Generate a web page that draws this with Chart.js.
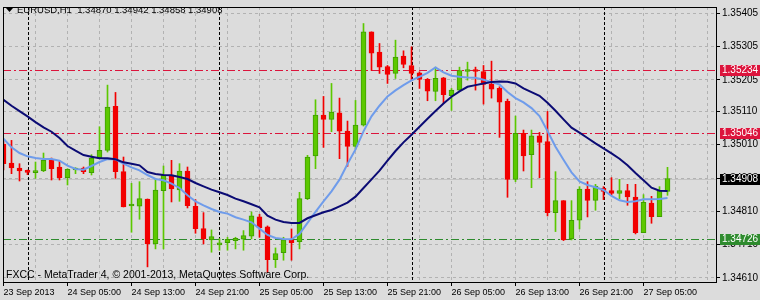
<!DOCTYPE html>
<html>
<head>
<meta charset="utf-8">
<script src="https://cdn.jsdelivr.net/npm/chart.js@4.4.1/dist/chart.umd.min.js"></script>
<style>
  html, body { margin: 0; padding: 0; background: #dcdcdc; }
  canvas { display: block; }
</style>
</head>
<body>
<canvas id="chart" width="760" height="300"></canvas>
<script>
// EURUSD H1, 23 Sep 21:00 .. 27 Sep 08:00 (84 bars)
const symbol = 'EURUSD,H1';
const timeLabels = ['23 Sep 2013', '24 Sep 05:00', '24 Sep 13:00', '24 Sep 21:00', '25 Sep 05:00',
  '25 Sep 13:00', '25 Sep 21:00', '26 Sep 05:00', '26 Sep 13:00', '26 Sep 21:00', '27 Sep 05:00'];

const opens = [1.35012,1.34955,1.34940,1.34929,1.34926,1.34931,1.34963,1.34943,1.34911,1.34934,
  1.34940,1.34926,1.34970,1.34993,1.35125,1.34929,1.34826,1.34825,1.34847,1.34712,
  1.34872,1.34919,1.34874,1.34931,1.34825,1.34758,1.34724,1.34709,1.34716,1.34722,
  1.34726,1.34735,1.34793,1.34763,1.34665,1.34686,1.34724,1.34719,1.34848,1.34976,
  1.35099,1.35086,1.35106,1.35051,1.35005,1.35069,1.35349,1.35288,1.35245,1.35224,
  1.35276,1.35248,1.35226,1.35206,1.35170,1.35211,1.35157,1.35174,1.35230,1.35235,
  1.35230,1.35192,1.35179,1.35140,1.34906,1.35044,1.34980,1.35037,1.35019,1.34806,
  1.34842,1.34727,1.34783,1.34877,1.34843,1.34879,1.34872,1.34864,1.34872,1.34853,
  1.34746,1.34835,1.34794,1.34870];
const highs = [1.35020,1.35023,1.34953,1.34934,1.34958,1.34985,1.34970,1.34960,1.34938,1.34941,
  1.34943,1.34980,1.35064,1.35189,1.35167,1.34973,1.34894,1.34899,1.34847,1.34909,
  1.34946,1.34963,1.34953,1.34943,1.34845,1.34806,1.34754,1.34728,1.34732,1.34732,
  1.34752,1.34808,1.34801,1.34766,1.34700,1.34732,1.34757,1.34867,1.34978,1.35145,
  1.35155,1.35194,1.35150,1.35081,1.35143,1.35374,1.35349,1.35314,1.35248,1.35324,
  1.35292,1.35304,1.35229,1.35209,1.35243,1.35212,1.35179,1.35243,1.35258,1.35243,
  1.35248,1.35261,1.35184,1.35147,1.35096,1.35054,1.35054,1.35047,1.35110,1.34929,
  1.34842,1.34842,1.34884,1.34899,1.34891,1.34884,1.34911,1.34906,1.34891,1.34891,
  1.34860,1.34855,1.34884,1.34942];
const lows = [1.34934,1.34923,1.34901,1.34920,1.34909,1.34929,1.34904,1.34904,1.34889,1.34923,
  1.34923,1.34919,1.34968,1.34988,1.34909,1.34823,1.34747,1.34786,1.34643,1.34697,
  1.34697,1.34838,1.34840,1.34820,1.34744,1.34712,1.34687,1.34693,1.34693,1.34697,
  1.34693,1.34727,1.34732,1.34626,1.34641,1.34663,1.34663,1.34697,1.34845,1.34938,
  1.35002,1.35049,1.34968,1.34945,1.34997,1.35066,1.35233,1.35224,1.35194,1.35209,
  1.35241,1.35202,1.35179,1.35142,1.35142,1.35133,1.35113,1.35172,1.35204,1.35174,
  1.35132,1.35150,1.35032,1.34852,1.34899,1.34931,1.34881,1.34911,1.34796,1.34749,
  1.34722,1.34724,1.34757,1.34793,1.34813,1.34845,1.34858,1.34848,1.34828,1.34742,
  1.34746,1.34774,1.34794,1.34858];
const closes = [1.34953,1.34940,1.34931,1.34927,1.34931,1.34963,1.34938,1.34911,1.34936,1.34936,
  1.34929,1.34970,1.34993,1.35123,1.34929,1.34823,1.34828,1.34848,1.34712,1.34874,
  1.34919,1.34877,1.34931,1.34827,1.34758,1.34727,1.34734,1.34711,1.34726,1.34729,
  1.34737,1.34796,1.34761,1.34665,1.34683,1.34724,1.34716,1.34848,1.34973,1.35099,
  1.35086,1.35108,1.35051,1.35005,1.35069,1.35349,1.35285,1.35243,1.35221,1.35273,
  1.35251,1.35224,1.35206,1.35171,1.35209,1.35160,1.35174,1.35233,1.35235,1.35230,
  1.35191,1.35177,1.35138,1.34906,1.35044,1.34976,1.35037,1.35017,1.34806,1.34842,
  1.34724,1.34783,1.34877,1.34843,1.34886,1.34870,1.34864,1.34872,1.34853,1.34746,
  1.34837,1.34794,1.34872,1.34908];

// two moving averages
const maSlow = [1.35145,1.35127,1.35111,1.35095,1.35078,1.35062,1.35049,1.35030,1.35006,1.34992,
  1.34979,1.34974,1.34969,1.34969,1.34966,1.34957,1.34953,1.34948,1.34928,1.34922,
  1.34919,1.34918,1.34913,1.34907,1.34895,1.34885,1.34875,1.34867,1.34859,1.34848,
  1.34840,1.34831,1.34822,1.34797,1.34785,1.34778,1.34775,1.34775,1.34789,1.34798,
  1.34807,1.34814,1.34825,1.34836,1.34854,1.34880,1.34906,1.34932,1.34962,1.34991,
  1.35017,1.35040,1.35064,1.35088,1.35111,1.35134,1.35154,1.35170,1.35184,1.35189,
  1.35194,1.35198,1.35200,1.35199,1.35194,1.35179,1.35168,1.35157,1.35136,1.35112,
  1.35086,1.35061,1.35046,1.35030,1.35014,1.34999,1.34984,1.34968,1.34948,1.34925,
  1.34903,1.34881,1.34872,1.34871];
const maFast = [1.35028,1.35002,1.34985,1.34975,1.34970,1.34967,1.34967,1.34962,1.34947,1.34937,
  1.34935,1.34946,1.34958,1.34967,1.34966,1.34953,1.34942,1.34933,1.34919,1.34907,
  1.34903,1.34893,1.34880,1.34858,1.34840,1.34828,1.34817,1.34808,1.34803,1.34792,
  1.34785,1.34777,1.34758,1.34739,1.34730,1.34727,1.34726,1.34742,1.34775,1.34808,
  1.34840,1.34870,1.34905,1.34952,1.34996,1.35050,1.35095,1.35127,1.35155,1.35173,
  1.35189,1.35203,1.35214,1.35226,1.35242,1.35227,1.35217,1.35214,1.35212,1.35211,
  1.35205,1.35198,1.35191,1.35168,1.35150,1.35137,1.35120,1.35096,1.35051,1.35004,
  1.34965,1.34927,1.34900,1.34889,1.34882,1.34874,1.34856,1.34843,1.34838,1.34840,
  1.34846,1.34846,1.34847,1.34850];

const priceTicks = [1.35405, 1.35305, 1.35205, 1.35110, 1.35010, 1.34908, 1.34810, 1.34710, 1.34610];
const levelPrices = [1.35234, 1.35046, 1.34726];
const levelColors = ['#dc143c', '#dc143c', '#2e8b2e'];
const daySeparators = [3, 27, 51, 75]; // bar index of each 00:00
const footer = 'FXCC - MetaTrader 4, \u00a9 2001-2013, MetaQuotes Software Corp.';

const FONT = '"Liberation Sans", Arial, sans-serif';
const UP = '#5cc800', UP_EDGE = '#3f9f00', DOWN = '#f20000';
const last = opens.length - 1;
const bid = closes[last];
const isUp = (i) => closes[i] >= opens[i];

const overlay = {
  id: 'overlay',
  beforeDatasetsDraw(chart) {
    const { ctx, chartArea: a, scales: { x, y } } = chart;
    const hline = (p) => { const py = Math.round(y.getPixelForValue(p)) + 0.5;
      ctx.beginPath(); ctx.moveTo(a.left, py); ctx.lineTo(a.right, py); ctx.stroke(); };
    ctx.save();
    ctx.beginPath(); ctx.rect(a.left, a.top, a.width, a.height); ctx.clip();
    ctx.lineWidth = 1;
    ctx.strokeStyle = '#c4c4c4';
    hline(bid);
    ctx.strokeStyle = '#000';
    ctx.setLineDash([3, 2]);
    daySeparators.forEach(i => {
      const px = Math.round(x.getPixelForValue(i)) + 0.5;
      ctx.beginPath(); ctx.moveTo(px, a.top); ctx.lineTo(px, a.bottom); ctx.stroke();
    });
    ctx.setLineDash([8, 3, 2, 3]);
    levelPrices.forEach((p, k) => { ctx.strokeStyle = levelColors[k]; hline(p); });
    ctx.restore();
  },
  afterDraw(chart) {
    const { ctx, chartArea: a, scales: { y } } = chart;
    ctx.save();
    ctx.strokeStyle = '#000';
    ctx.lineWidth = 1;
    ctx.strokeRect(a.left + 0.5, a.top + 0.5, a.width - 1, a.height);
    // price labels on the right scale
    ctx.font = `10px ${FONT}`;
    ctx.textBaseline = 'middle';
    const box = (p, bg) => {
      const py = Math.round(y.getPixelForValue(p));
      ctx.fillStyle = bg;
      ctx.fillRect(a.right + 3, py - 5, 40, 11);
      ctx.fillStyle = '#fff';
      ctx.fillText(p.toFixed(5), a.right + 5, py + 0.5);
    };
    levelPrices.forEach((p, k) => box(p, levelColors[k]));
    box(bid, '#000');
    // header and footer text
    ctx.fillStyle = '#000';
    ctx.beginPath(); ctx.moveTo(6, 8); ctx.lineTo(13, 8); ctx.lineTo(9.5, 12); ctx.closePath(); ctx.fill();
    ctx.font = `9.5px ${FONT}`;
    const ohlc = [opens[last], highs[last], lows[last], closes[last]].map(v => v.toFixed(5)).join(' ');
    ctx.fillText(`${symbol}  ${ohlc}`, 17, 10);
    ctx.font = `10.5px ${FONT}`;
    ctx.fillText(footer, 6, 275);
    ctx.restore();
  }
};

const xMin = -0.0625, xMax = 89.1875;

new Chart(document.getElementById('chart'), {
  type: 'bar',
  data: {
    datasets: [
      { type: 'line', data: maSlow.map((v, i) => ({ x: i, y: v })), borderColor: '#0b0b74',
        borderWidth: 2, pointRadius: 0, tension: 0, order: 0 },
      { type: 'line', data: maFast.map((v, i) => ({ x: i, y: v })), borderColor: '#6f9ceb',
        borderWidth: 2, pointRadius: 0, tension: 0, order: 0 },
      { data: opens.map((o, i) => ({ x: i, y: [lows[i], highs[i]] })),
        backgroundColor: opens.map((o, i) => isUp(i) ? UP : DOWN),
        barThickness: 1, grouped: false, order: 2 },
      { data: opens.map((o, i) => ({ x: i, y: [o, closes[i]] })),
        backgroundColor: opens.map((o, i) => isUp(i) ? UP : DOWN),
        borderColor: opens.map((o, i) => isUp(i) ? UP_EDGE : DOWN),
        borderWidth: 1, borderSkipped: false, minBarLength: 2,
        barThickness: 5, grouped: false, order: 1 }
    ]
  },
  options: {
    responsive: false,
    animation: false,
    devicePixelRatio: 1,
    layout: { padding: { left: 3, top: 2, right: 0, bottom: 0 } },
    plugins: { legend: { display: false }, tooltip: { enabled: false } },
    scales: {
      x: {
        type: 'linear', position: 'bottom', min: xMin, max: xMax, offset: false,
        afterBuildTicks: s => { s.ticks = timeLabels.map((t, k) => ({ value: k * 8 })); },
        afterFit: s => { s.height = 18; },
        ticks: { autoSkip: false, maxRotation: 0, align: 'start', padding: 1, color: '#000',
          font: { family: FONT, size: 9 }, callback: v => timeLabels[Math.round(v / 8)] },
        grid: { drawOnChartArea: false, drawTicks: true, tickLength: 4, tickColor: '#000', offset: false },
        border: { display: false }
      },
      xg: {
        type: 'linear', axis: 'x', position: 'bottom', min: xMin, max: xMax, offset: false,
        afterBuildTicks: s => { const t = []; for (let v = 0; v <= xMax; v += 4) t.push({ value: v }); s.ticks = t; },
        afterFit: s => { s.height = 0; },
        ticks: { display: false },
        grid: { drawTicks: false, color: '#b2b2b2', offset: false },
        border: { display: false, dash: [3, 3] }
      },
      y: {
        position: 'right', min: 1.345976, max: 1.354236,
        afterBuildTicks: s => { s.ticks = priceTicks.map(v => ({ value: v })); },
        afterFit: s => { s.width = 43; },
        ticks: { color: '#000', padding: 2, font: { family: FONT, size: 10, lineHeight: 1 },
          callback: v => v.toFixed(5) },
        grid: { color: '#b2b2b2', tickLength: 3, tickColor: '#000', tickBorderDash: [] },
        border: { display: false, dash: [3, 3] }
      }
    }
  },
  plugins: [overlay]
});
</script>
</body>
</html>
